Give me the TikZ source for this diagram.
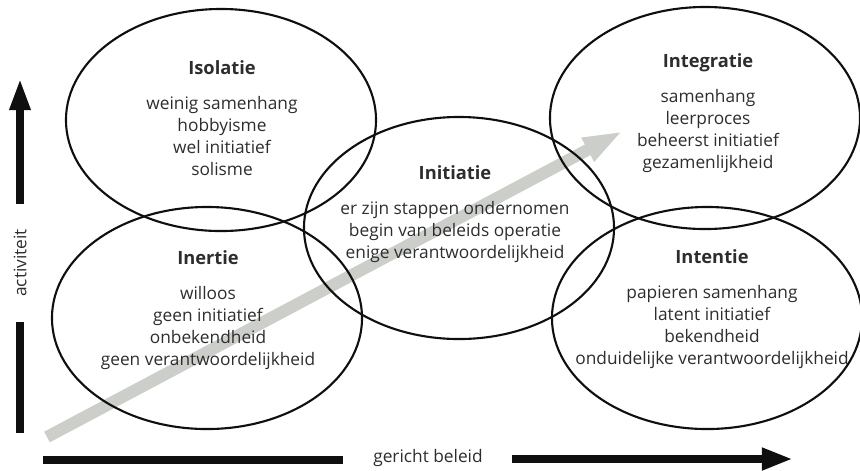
\documentclass[tikz,border=0pt]{standalone}
\usepackage{fontspec}
\setmainfont{Open Sans}
\usepackage{xcolor}
\definecolor{ink}{RGB}{15,15,15}
\definecolor{slate}{RGB}{45,45,45}
\definecolor{haze}{RGB}{204,206,202}
\usetikzlibrary{arrows.meta,shapes.geometric}

\begin{document}
\begin{tikzpicture}[x=0.025cm,y=-0.025cm,
  zone/.style={ellipse,draw=ink,line width=1.5pt,
               minimum width=7.75cm,minimum height=5.55cm,inner sep=0pt},
  label/.style={align=center,text=slate,inner sep=0pt,
                font=\fontsize{12.3}{15.6}\selectfont},
  axisbar/.style={ink,line width=0.22cm},
]
  \useasboundingbox (0,0) rectangle (860,470);

  %% trend arrow in the background
  \coordinate (g0) at (47,437);
  \coordinate (g1) at (623,131);
  \draw[haze,line width=0.3cm,-{Triangle[width=0.6cm,length=1cm]}] (g0) -- (g1);

  %% the five stages
  \node[zone](Iso) at (221,120) {};
  \node[zone](Igr) at (705,118) {};
  \node[zone](Ini) at (459,228) {};
  \node[zone](Ine) at (207,318) {};
  \node[zone](Ite) at (707,318) {};

  \node[label](IsoT) at (222,118) {%
    {\fontsize{13}{15}\selectfont\bfseries Isolatie}\\[9pt]
    weinig samenhang\\ hobbyisme\\ wel initiatief\\ solisme};
  \node[label](IgrT) at (708,113) {%
    {\fontsize{13}{15}\selectfont\bfseries Integratie}\\[9pt]
    samenhang\\ leerproces\\ beheerst initiatief\\ gezamenlijkheid};
  \node[label](IniT) at (455,214) {%
    {\fontsize{13}{15}\selectfont\bfseries Initiatie}\\[9pt]
    er zijn stappen ondernomen\\ begin van beleids operatie\\
    enige verantwoordelijkheid};
  \node[label](IneT) at (208,310) {%
    {\fontsize{13}{15}\selectfont\bfseries Inertie}\\[9pt]
    willoos\\ geen initiatief\\ onbekendheid\\ geen verantwoordelijkheid};
  \node[label](IteT) at (712,309) {%
    {\fontsize{13}{15}\selectfont\bfseries Intentie}\\[9pt]
    papieren samenhang\\ latent initiatief\\ bekendheid\\
    onduidelijke verantwoordelijkheid};

  %% vertical axis
  \node[label,rotate=90](act) at (20,263) {activiteit};
  \coordinate (v0) at (20,204);
  \coordinate (v1) at (20,78);
  \coordinate (v2) at (20,322);
  \coordinate (v3) at (20,433);
  \draw[axisbar,-{Triangle[width=0.48cm,length=0.8cm]}] (v0) -- (v1);
  \draw[axisbar] (v2) -- (v3);

  %% horizontal axis
  \node[label](pol) at (428,458) {gericht beleid};
  \coordinate (h0) at (43,460);
  \coordinate (h1) at (343,460);
  \coordinate (h2) at (512,459);
  \coordinate (h3) at (793,459);
  \draw[axisbar] (h0) -- (h1);
  \draw[axisbar,-{Triangle[width=0.52cm,length=0.78cm]}] (h2) -- (h3);
\end{tikzpicture}
\end{document}
